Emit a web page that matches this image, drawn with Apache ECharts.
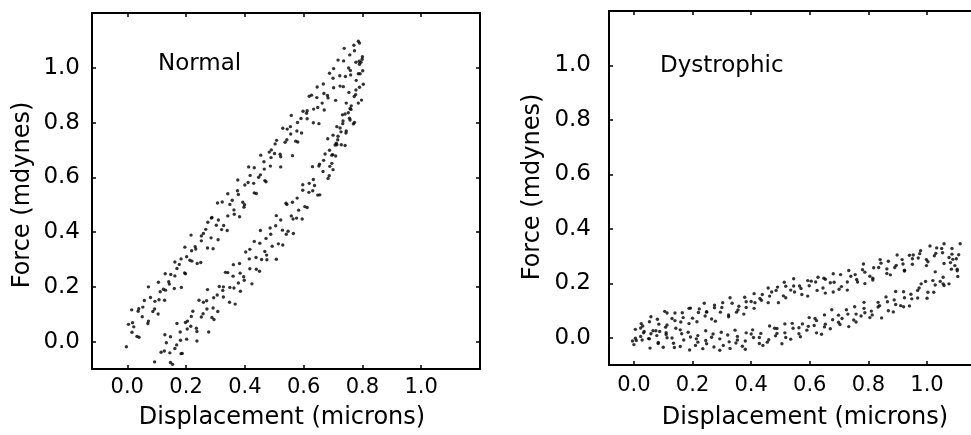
<!DOCTYPE html>
<html>
<head>
<meta charset="utf-8">
<script src="https://cdn.jsdelivr.net/npm/echarts@6/dist/echarts.min.js"></script>
<style>
html,body{margin:0;padding:0;background:#fff;}
#chart{width:971px;height:435px;}
</style>
</head>
<body>
<div id="chart"></div>
<script>
// ---- tick labels / texts ----
var tickValues = [0, 0.2, 0.4, 0.6, 0.8, 1.0];
var panelTitles = ['Normal', 'Dystrophic'];
var xTitle = 'Displacement (microns)';
var yTitle = 'Force (mdynes)';

// ---- Normal: upper branch [displacement, force] ----
var normalUpper = [
[0.004,0.063],[-0.003,-0.019],[0.022,0.054],[0.015,0.116],[0.016,0.034],[0.033,0.019],[0.018,0.069],[0.039,0.120],[0.040,0.016],[0.037,0.111],
[0.058,0.150],[0.051,0.091],[0.072,0.075],[0.053,0.126],[0.070,0.066],[0.079,0.161],[0.072,0.200],[0.093,0.119],[0.094,0.147],[0.087,0.110],
[0.112,0.182],[0.105,0.101],[0.106,0.217],[0.123,0.191],[0.108,0.153],[0.129,0.248],[0.130,0.188],[0.127,0.151],[0.148,0.245],[0.141,0.219],
[0.162,0.291],[0.143,0.210],[0.160,0.194],[0.169,0.267],[0.162,0.240],[0.183,0.302],[0.184,0.198],[0.177,0.282],[0.202,0.310],[0.195,0.251],
[0.196,0.345],[0.213,0.297],[0.198,0.248],[0.219,0.332],[0.220,0.294],[0.217,0.389],[0.238,0.285],[0.231,0.347],[0.252,0.386],[0.233,0.338],
[0.250,0.289],[0.259,0.395],[0.252,0.368],[0.273,0.342],[0.274,0.436],[0.267,0.410],[0.292,0.339],[0.285,0.379],[0.286,0.451],[0.303,0.425],
[0.288,0.453],[0.309,0.372],[0.310,0.444],[0.307,0.506],[0.328,0.424],[0.321,0.409],[0.342,0.459],[0.323,0.510],[0.340,0.406],[0.349,0.501],
[0.342,0.540],[0.363,0.481],[0.364,0.465],[0.357,0.516],[0.382,0.456],[0.375,0.551],[0.376,0.590],[0.393,0.509],[0.378,0.537],[0.399,0.500],
[0.400,0.572],[0.397,0.491],[0.418,0.607],[0.411,0.581],[0.432,0.543],[0.413,0.638],[0.430,0.578],[0.439,0.541],[0.432,0.635],[0.453,0.609],
[0.454,0.681],[0.447,0.600],[0.472,0.584],[0.465,0.657],[0.466,0.630],[0.483,0.692],[0.468,0.588],[0.489,0.672],[0.490,0.700],[0.487,0.641],
[0.508,0.735],[0.501,0.687],[0.522,0.638],[0.503,0.722],[0.520,0.684],[0.529,0.779],[0.522,0.675],[0.543,0.737],[0.544,0.776],[0.537,0.728],
[0.562,0.679],[0.555,0.785],[0.556,0.758],[0.573,0.732],[0.558,0.826],[0.579,0.800],[0.580,0.729],[0.577,0.769],[0.598,0.841],[0.591,0.815],
[0.612,0.843],[0.593,0.762],[0.610,0.834],[0.619,0.896],[0.612,0.814],[0.633,0.799],[0.634,0.849],[0.627,0.900],[0.652,0.796],[0.645,0.891],
[0.646,0.930],[0.663,0.871],[0.648,0.855],[0.669,0.906],[0.670,0.846],[0.667,0.941],[0.688,0.980],[0.681,0.899],[0.702,0.927],[0.683,0.890],
[0.700,0.962],[0.709,0.881],[0.702,0.997],[0.723,0.971],[0.724,0.933],[0.717,1.028],[0.742,0.968],[0.735,0.931],[0.736,1.025],[0.753,0.999],
[0.738,1.071],[0.759,0.990],[0.760,0.974],[0.757,1.047],[0.778,1.020],[0.771,1.082],[0.792,0.978],[0.773,1.062],[0.790,1.090],[0.799,1.031],
[0.786,1.097],[0.800,1.040],[0.795,1.020]
];

// ---- Normal: lower branch ----
var normalLower = [
[0.108,-0.104],[0.093,-0.074],[0.114,-0.117],[0.115,-0.039],[0.112,-0.129],[0.133,-0.004],[0.126,-0.034],[0.147,-0.076],[0.128,0.025],[0.145,-0.041],
[0.154,-0.083],[0.147,0.018],[0.168,-0.012],[0.169,0.066],[0.162,-0.025],[0.187,-0.043],[0.180,0.035],[0.181,0.005],[0.198,0.070],[0.183,-0.044],
[0.204,0.046],[0.205,0.075],[0.202,0.009],[0.223,0.111],[0.216,0.056],[0.237,0.002],[0.218,0.092],[0.235,0.049],[0.244,0.151],[0.237,0.037],
[0.258,0.102],[0.259,0.144],[0.252,0.090],[0.277,0.035],[0.270,0.149],[0.271,0.119],[0.288,0.088],[0.273,0.190],[0.294,0.160],[0.295,0.081],
[0.292,0.123],[0.313,0.201],[0.306,0.170],[0.327,0.200],[0.308,0.110],[0.325,0.187],[0.334,0.253],[0.327,0.163],[0.348,0.144],[0.349,0.198],
[0.342,0.252],[0.367,0.137],[0.360,0.239],[0.361,0.281],[0.378,0.214],[0.363,0.196],[0.384,0.250],[0.385,0.184],[0.382,0.285],[0.403,0.327],
[0.396,0.237],[0.417,0.266],[0.398,0.224],[0.415,0.302],[0.424,0.211],[0.417,0.337],[0.438,0.307],[0.439,0.264],[0.432,0.366],[0.457,0.300],
[0.450,0.257],[0.451,0.359],[0.468,0.329],[0.453,0.406],[0.474,0.316],[0.475,0.299],[0.472,0.377],[0.493,0.348],[0.486,0.415],[0.507,0.301],
[0.488,0.392],[0.505,0.423],[0.514,0.357],[0.507,0.460],[0.528,0.407],[0.529,0.353],[0.522,0.444],[0.547,0.403],[0.540,0.505],[0.541,0.392],
[0.558,0.459],[0.543,0.501],[0.564,0.448],[0.565,0.395],[0.562,0.509],[0.583,0.480],[0.576,0.451],[0.597,0.553],[0.578,0.524],[0.595,0.448],
[0.604,0.493],[0.597,0.573],[0.618,0.545],[0.619,0.578],[0.612,0.490],[0.637,0.570],[0.630,0.639],[0.631,0.551],[0.648,0.535],[0.633,0.592],
[0.654,0.648],[0.655,0.536],[0.652,0.641],[0.673,0.685],[0.666,0.621],[0.687,0.606],[0.668,0.662],[0.683,0.596],[0.688,0.699],[0.682,0.741],
[0.696,0.651],[0.696,0.681],[0.689,0.640],[0.707,0.718],[0.700,0.628],[0.700,0.754],[0.711,0.725],[0.699,0.683],[0.713,0.785],[0.713,0.719],
[0.709,0.678],[0.724,0.780],[0.717,0.750],[0.732,0.828],[0.716,0.737],[0.728,0.719],[0.733,0.796],[0.727,0.766],[0.741,0.831],[0.741,0.716],
[0.734,0.806],[0.752,0.836],[0.745,0.769],[0.745,0.871],[0.756,0.816],[0.744,0.762],[0.758,0.851],[0.758,0.809],[0.754,0.910],[0.769,0.795],
[0.762,0.861],[0.777,0.902],[0.761,0.848],[0.773,0.800],[0.778,0.919],[0.772,0.895],[0.786,0.871],[0.786,0.978],[0.779,0.954],[0.797,0.882],
[0.790,0.929],[0.790,1.013],[0.801,0.989],[0.789,1.024],[0.803,0.940]
];

// ---- Dystrophic: upper branch ----
var dystUpper = [
[0.005,-0.002],[0.008,-0.010],[0.005,0.031],[0.033,0.018],[0.025,0.052],[0.053,-0.004],[0.030,0.043],[0.053,0.059],[0.065,0.026],[0.058,0.077],
[0.085,0.050],[0.088,0.023],[0.080,0.068],[0.113,0.047],[0.105,0.097],[0.108,0.039],[0.130,0.071],[0.113,0.091],[0.140,0.063],[0.143,0.035],
[0.140,0.091],[0.168,0.074],[0.160,0.058],[0.188,0.108],[0.165,0.092],[0.188,0.052],[0.200,0.072],[0.193,0.109],[0.220,0.093],[0.223,0.106],
[0.215,0.059],[0.248,0.096],[0.240,0.127],[0.243,0.080],[0.265,0.069],[0.248,0.094],[0.275,0.120],[0.278,0.061],[0.275,0.110],[0.303,0.129],
[0.295,0.094],[0.323,0.084],[0.300,0.111],[0.323,0.077],[0.335,0.127],[0.328,0.147],[0.355,0.102],[0.358,0.116],[0.350,0.094],[0.383,0.132],
[0.375,0.087],[0.378,0.149],[0.400,0.133],[0.383,0.111],[0.410,0.162],[0.413,0.129],[0.410,0.108],[0.438,0.159],[0.430,0.144],[0.458,0.183],
[0.435,0.138],[0.458,0.129],[0.470,0.168],[0.463,0.153],[0.490,0.186],[0.493,0.129],[0.485,0.174],[0.518,0.189],[0.510,0.154],[0.513,0.204],
[0.535,0.175],[0.518,0.147],[0.545,0.190],[0.548,0.168],[0.545,0.217],[0.573,0.159],[0.565,0.190],[0.593,0.210],[0.570,0.181],[0.593,0.153],
[0.605,0.208],[0.598,0.191],[0.625,0.174],[0.628,0.222],[0.620,0.205],[0.653,0.164],[0.645,0.183],[0.648,0.219],[0.670,0.202],[0.653,0.215],
[0.680,0.168],[0.683,0.204],[0.680,0.235],[0.708,0.188],[0.700,0.178],[0.728,0.205],[0.705,0.232],[0.728,0.175],[0.740,0.226],[0.733,0.247],
[0.760,0.214],[0.763,0.205],[0.755,0.232],[0.788,0.199],[0.780,0.250],[0.783,0.271],[0.805,0.226],[0.788,0.241],[0.815,0.219],[0.818,0.257],
[0.815,0.212],[0.843,0.274],[0.835,0.258],[0.863,0.236],[0.840,0.287],[0.863,0.253],[0.875,0.231],[0.868,0.281],[0.895,0.266],[0.898,0.304],
[0.890,0.258],[0.923,0.248],[0.915,0.287],[0.918,0.271],[0.940,0.303],[0.923,0.245],[0.950,0.290],[0.953,0.304],[0.950,0.270],[0.978,0.320],
[0.970,0.293],[0.998,0.265],[0.975,0.309],[0.998,0.287],[1.010,0.337],[1.003,0.279],[1.030,0.310],[1.033,0.330],[1.025,0.301],[1.058,0.273],
[1.050,0.328],[1.053,0.312],[1.075,0.295],[1.058,0.345],[1.085,0.328],[1.088,0.288],[1.085,0.307],[1.113,0.345]
];

// ---- Dystrophic: lower branch ----
var dystLower = [
[-0.005,-0.012],[0.023,0.036],[0.000,-0.025],[0.023,0.005],[0.035,0.023],[0.028,-0.008],[0.055,-0.038],[0.058,0.015],[0.050,-0.003],[0.083,-0.021],
[0.075,0.026],[0.078,0.008],[0.100,-0.035],[0.083,-0.017],[0.110,0.019],[0.113,0.000],[0.110,0.012],[0.138,-0.036],[0.130,-0.001],[0.158,0.029],
[0.135,-0.020],[0.158,-0.032],[0.170,-0.008],[0.163,0.015],[0.190,-0.045],[0.193,0.003],[0.185,0.020],[0.218,-0.016],[0.210,-0.028],[0.213,-0.004],
[0.235,-0.040],[0.218,0.008],[0.245,0.026],[0.248,-0.022],[0.245,-0.010],[0.273,-0.034],[0.265,0.002],[0.293,-0.046],[0.270,0.014],[0.293,-0.004],
[0.305,-0.028],[0.298,0.020],[0.325,-0.015],[0.328,-0.039],[0.320,0.010],[0.353,-0.008],[0.345,0.028],[0.348,-0.019],[0.370,-0.031],[0.353,0.005],
[0.380,-0.012],[0.383,0.018],[0.380,-0.042],[0.408,0.001],[0.400,0.014],[0.428,-0.021],[0.405,0.029],[0.428,0.001],[0.440,-0.028],[0.433,0.016],
[0.460,-0.007],[0.463,0.043],[0.455,-0.016],[0.488,0.016],[0.480,0.035],[0.483,0.007],[0.505,-0.022],[0.488,0.034],[0.515,0.018],[0.518,0.001],
[0.515,0.051],[0.543,0.035],[0.535,-0.005],[0.563,0.015],[0.540,0.053],[0.563,0.037],[0.575,0.051],[0.568,0.004],[0.595,0.042],[0.598,0.074],
[0.590,0.028],[0.623,0.018],[0.615,0.045],[0.618,0.071],[0.640,0.013],[0.623,0.063],[0.650,0.084],[0.653,0.050],[0.650,0.040],[0.678,0.066],
[0.670,0.033],[0.698,0.083],[0.675,0.103],[0.698,0.057],[0.710,0.071],[0.703,0.049],[0.730,0.087],[0.733,0.041],[0.725,0.103],[0.758,0.087],
[0.750,0.065],[0.753,0.114],[0.775,0.080],[0.758,0.058],[0.785,0.108],[0.788,0.092],[0.785,0.130],[0.813,0.084],[0.805,0.074],[0.833,0.113],
[0.810,0.098],[0.833,0.130],[0.845,0.073],[0.838,0.118],[0.865,0.132],[0.868,0.099],[0.860,0.150],[0.893,0.122],[0.885,0.095],[0.888,0.139],
[0.910,0.118],[0.893,0.170],[0.920,0.114],[0.923,0.147],[0.920,0.169],[0.948,0.143],[0.940,0.117],[0.968,0.174],[0.945,0.160],[0.968,0.146],
[0.980,0.198],[0.973,0.183],[1.000,0.145],[1.003,0.167],[0.995,0.207],[1.028,0.194],[1.020,0.210],[1.023,0.167],[1.045,0.207],[1.028,0.242],
[1.055,0.198],[1.058,0.192],[1.055,0.222],[1.083,0.252],[1.075,0.198],[1.103,0.252],[1.080,0.276],[1.103,0.246],[1.100,0.290],[1.108,0.305],
[1.095,0.265],[1.105,0.225]
];

var FONT = 'DejaVu Sans';
var INK = '#000';
var fmt = function (v) { return Number(v).toFixed(1); };
var tickStyle = { color: INK, width: 1.5 };

function xAxes(gi, min, max, labelMargin) {
  return [
    { type: 'value', gridIndex: gi, position: 'bottom', min: min, max: max,
      axisLine: { show: true, onZero: false, lineStyle: { color: INK, width: 2 } },
      axisTick: { show: true, inside: true, length: 4, customValues: tickValues, lineStyle: tickStyle },
      axisLabel: { show: true, customValues: tickValues, formatter: fmt, margin: labelMargin,
        fontFamily: FONT, fontSize: 21, color: INK },
      splitLine: { show: false } },
    { type: 'value', gridIndex: gi, position: 'top', min: min, max: max,
      axisLine: { show: true, onZero: false, lineStyle: { color: INK, width: 2 } },
      axisTick: { show: true, inside: true, length: 4, customValues: tickValues, lineStyle: tickStyle },
      axisLabel: { show: false }, splitLine: { show: false } }
  ];
}
function yAxes(gi, labelMargin, showRight) {
  return [
    { type: 'value', gridIndex: gi, position: 'left', min: -0.1, max: 1.2,
      axisLine: { show: true, onZero: false, lineStyle: { color: INK, width: 2 } },
      axisTick: { show: true, inside: true, length: 4, customValues: tickValues, lineStyle: tickStyle },
      axisLabel: { show: true, customValues: tickValues, formatter: fmt, margin: labelMargin,
        fontFamily: FONT, fontSize: 23, color: INK },
      splitLine: { show: false } },
    { type: 'value', gridIndex: gi, position: 'right', min: -0.1, max: 1.2,
      axisLine: { show: showRight, onZero: false, lineStyle: { color: INK, width: 2 } },
      axisTick: { show: showRight, inside: true, length: 4, customValues: tickValues, lineStyle: tickStyle },
      axisLabel: { show: false }, splitLine: { show: false } }
  ];
}

function dots(data, xi, yi) {
  return { type: 'scatter', xAxisIndex: xi, yAxisIndex: yi, data: data, clip: true,
    symbol: 'circle', symbolSize: 3.4, itemStyle: { color: '#000' }, silent: true, animation: false };
}

var chart = echarts.init(document.getElementById('chart'), null, { renderer: 'canvas' });
chart.setOption({
  backgroundColor: '#fff',
  animation: false,
  grid: [
    { left: 92, top: 13, width: 388, height: 356 },
    { left: 609, top: 11, width: 362, height: 354 }
  ],
  xAxis: xAxes(0, -0.12, 1.2, 8).concat(xAxes(1, -0.085, 1.15, 10)),
  yAxis: yAxes(0, 12, true).concat(yAxes(1, 18, false)),
  series: [
    dots(normalUpper, 0, 0),
    dots(normalLower, 0, 0),
    dots(dystUpper, 2, 2),
    dots(dystLower, 2, 2)
  ],
  graphic: [
    { type: 'text', left: 158, top: 53, style: { text: panelTitles[0], font: '23px "DejaVu Sans"', fill: INK } },
    { type: 'text', left: 660, top: 55, style: { text: panelTitles[1], font: '23px "DejaVu Sans"', fill: INK } },
    { type: 'text', x: 282, y: 418, style: { text: xTitle, font: '24px "DejaVu Sans"', fill: INK, align: 'center', verticalAlign: 'middle' } },
    { type: 'text', x: 805, y: 418, style: { text: xTitle, font: '24px "DejaVu Sans"', fill: INK, align: 'center', verticalAlign: 'middle' } },
    { type: 'text', x: 23, y: 195, rotation: Math.PI / 2, style: { text: yTitle, font: '24px "DejaVu Sans"', fill: INK, align: 'center', verticalAlign: 'middle' } },
    { type: 'text', x: 533, y: 187, rotation: Math.PI / 2, style: { text: yTitle, font: '24px "DejaVu Sans"', fill: INK, align: 'center', verticalAlign: 'middle' } }
  ]
});
</script>
</body>
</html>
